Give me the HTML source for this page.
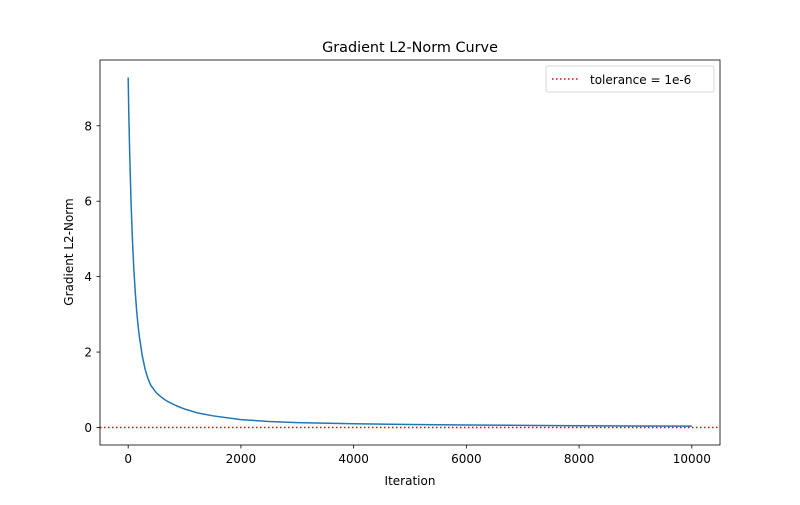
<!DOCTYPE html>
<html><head><meta charset="utf-8"><style>
body{margin:0;background:#fff;font-family:"Liberation Sans","DejaVu Sans",sans-serif}
svg text{font-family:"DejaVu Sans","Liberation Sans",sans-serif;fill:#000}
</style></head><body>
<svg id="chart" width="800" height="500" xmlns="http://www.w3.org/2000/svg">
<rect width="800" height="500" fill="#fff"/>
<text x="410" y="52" font-size="14.4" text-anchor="middle">Gradient L2-Norm Curve</text>
<g id="plot"></g>
<rect x="100" y="60" width="620" height="385" fill="none" stroke="#000" stroke-width="0.8"/>
<text x="410" y="485" font-size="12" text-anchor="middle">Iteration</text>
<text x="0" y="0" font-size="12" text-anchor="middle" transform="translate(73,252) rotate(-90)">Gradient L2-Norm</text>
<g>
<rect x="546" y="66" width="168" height="26" rx="2" fill="#fff" stroke="#ccc" stroke-width="0.8"/>
<line x1="552" y1="79" x2="580" y2="79" stroke="red" stroke-width="1.5" stroke-dasharray="1.5,2.5"/>
<text x="590" y="84" font-size="12">tolerance = 1e-6</text>
</g>
</svg>
<script>
const iterations=[0,10,25,50,75,100,125,150,175,200,250,300,350,400,500,600,700,850,1000,1250,1500,2000,2500,3000,4000,5000,6000,7000,8000,9000,10000];
const normValues=[9.28,8.4,7.4,6.0,5.0,4.2,3.6,3.1,2.7,2.4,1.9,1.55,1.3,1.12,0.92,0.79,0.69,0.58,0.49,0.38,0.31,0.21,0.16,0.13,0.1,0.08,0.066,0.056,0.047,0.041,0.036];
const xTicks=[0,2000,4000,6000,8000,10000];
const yTicks=[0,2,4,6,8];
const tolerance=1e-6;
const X0=100,X1=720,Y0=445,Y1=60,xmin=-500,xmax=10500,ymin=-0.464,ymax=9.744;
const sx=v=>X0+(v-xmin)/(xmax-xmin)*(X1-X0);
const sy=v=>Y0-(v-ymin)/(ymax-ymin)*(Y0-Y1);
const NS="http://www.w3.org/2000/svg",g=document.getElementById('plot');
function mk(t,a){const e=document.createElementNS(NS,t);for(const k in a)e.setAttribute(k,a[k]);g.appendChild(e);return e;}
xTicks.forEach(v=>{
 const l=mk('line',{x1:sx(v),x2:sx(v),y1:445,y2:448.5,stroke:'#000','stroke-width':0.8});
 
 
 const t=mk('text',{x:sx(v),y:463,'font-size':12,'text-anchor':'middle'});t.textContent=v;
 
 
});
yTicks.forEach(v=>{
 const l=mk('line',{x1:96.5,x2:100,y1:sy(v),y2:sy(v),stroke:'#000','stroke-width':0.8});
 
 
 const t=mk('text',{x:92,y:sy(v)+4.5,'font-size':12,'text-anchor':'end'});t.textContent=v;
 
 
});
const p=mk('polyline',{points:iterations.map((v,i)=>sx(v)+','+sy(normValues[i])).join(' '),fill:'none',stroke:'#1f77b4','stroke-width':1.5,'stroke-linejoin':'round'});


const tl=mk('line',{x1:X0,x2:X1,y1:sy(tolerance),y2:sy(tolerance),stroke:'red','stroke-width':1.5,'stroke-dasharray':'1.5,2.5'});


</script>
</body></html>
